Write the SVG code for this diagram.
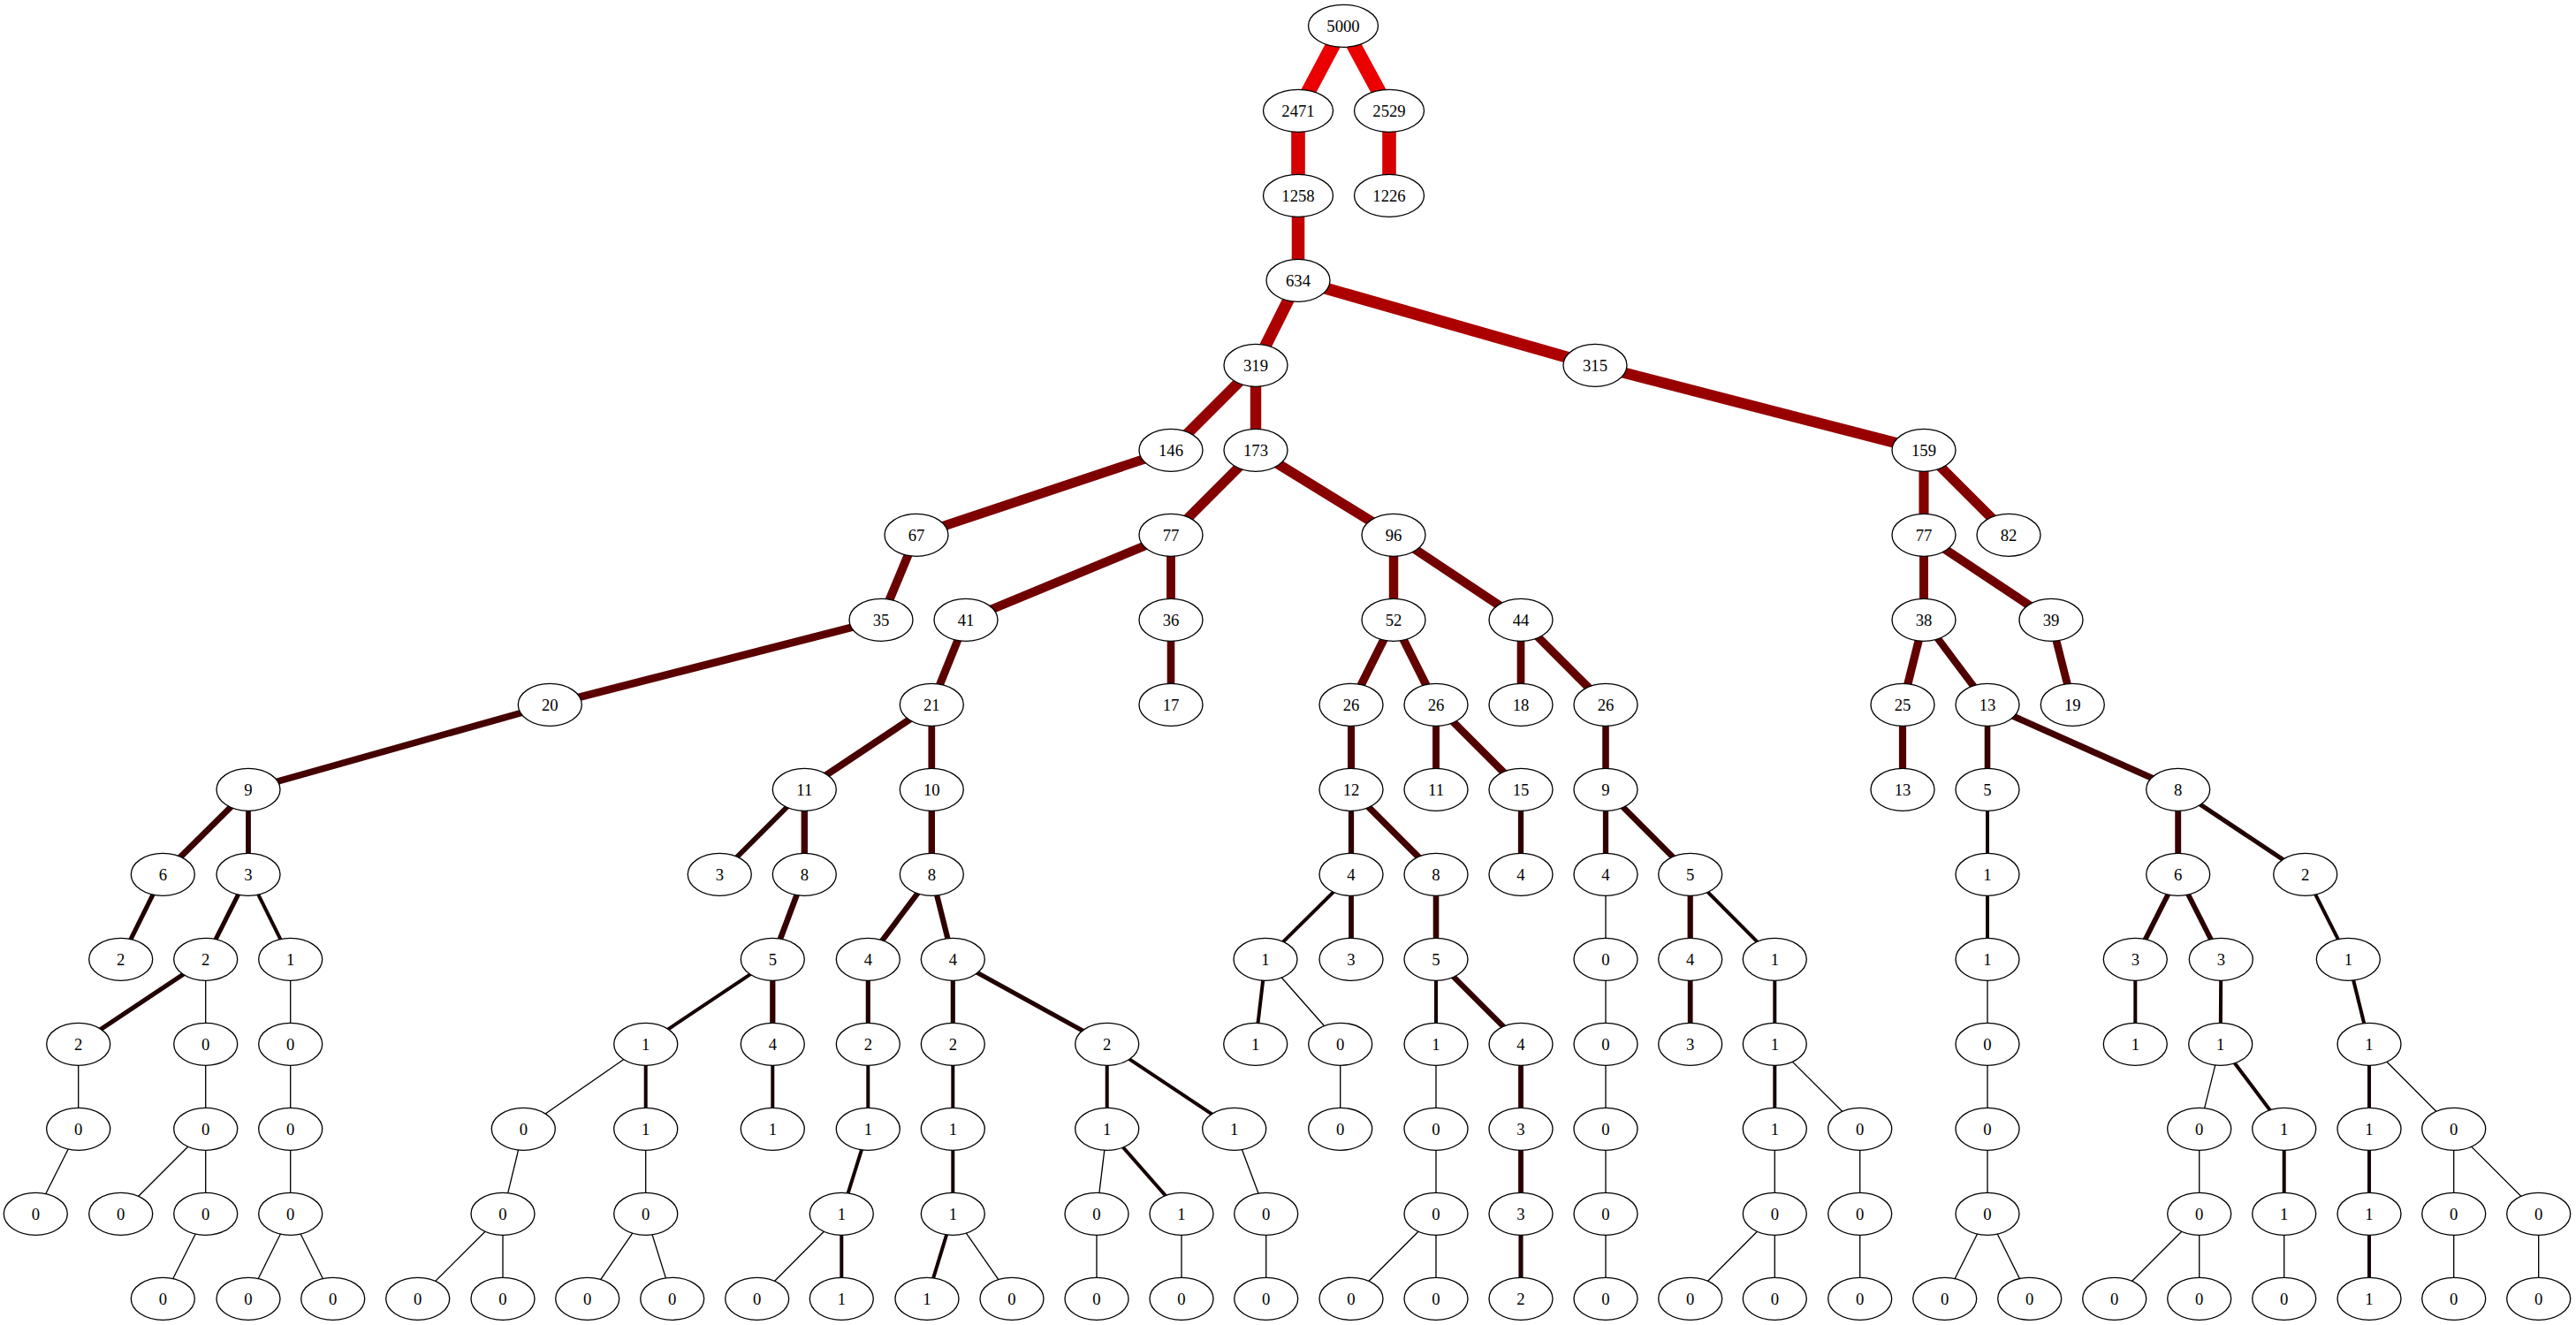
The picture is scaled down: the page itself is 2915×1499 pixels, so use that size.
<svg xmlns="http://www.w3.org/2000/svg" width="2915" height="1499" viewBox="0 0 2915 1499">
<style>
.node ellipse{fill:#fff;stroke:#000;stroke-width:1.33}
.node text{font-family:"Liberation Serif","Times New Roman",serif;font-size:18.67px;text-anchor:middle;fill:#000}
#edges line{fill:none;stroke-linecap:butt}
.w0{stroke:#000;stroke-width:1.33}
.w1{stroke:#150000;stroke-width:4}
.w2{stroke:#210000;stroke-width:5.13}
.w3{stroke:#2a0000;stroke-width:5.79}
.w4{stroke:#300000;stroke-width:6.26}
.w5{stroke:#360000;stroke-width:6.62}
.w6{stroke:#3a0000;stroke-width:6.92}
.w8{stroke:#420000;stroke-width:7.39}
.w9{stroke:#450000;stroke-width:7.58}
.w10{stroke:#480000;stroke-width:7.75}
.w11{stroke:#4a0000;stroke-width:7.91}
.w12{stroke:#4d0000;stroke-width:8.05}
.w13{stroke:#4f0000;stroke-width:8.18}
.w15{stroke:#530000;stroke-width:8.41}
.w17{stroke:#570000;stroke-width:8.62}
.w18{stroke:#580000;stroke-width:8.71}
.w19{stroke:#5a0000;stroke-width:8.8}
.w20{stroke:#5b0000;stroke-width:8.88}
.w21{stroke:#5d0000;stroke-width:8.96}
.w25{stroke:#620000;stroke-width:9.25}
.w26{stroke:#630000;stroke-width:9.31}
.w35{stroke:#6b0000;stroke-width:9.8}
.w36{stroke:#6c0000;stroke-width:9.84}
.w38{stroke:#6e0000;stroke-width:9.93}
.w39{stroke:#6e0000;stroke-width:9.97}
.w41{stroke:#700000;stroke-width:10.05}
.w44{stroke:#720000;stroke-width:10.17}
.w52{stroke:#770000;stroke-width:10.44}
.w67{stroke:#7e0000;stroke-width:10.85}
.w77{stroke:#820000;stroke-width:11.08}
.w82{stroke:#840000;stroke-width:11.18}
.w96{stroke:#890000;stroke-width:11.44}
.w146{stroke:#950000;stroke-width:12.12}
.w159{stroke:#980000;stroke-width:12.26}
.w173{stroke:#9a0000;stroke-width:12.4}
.w315{stroke:#ac0000;stroke-width:13.38}
.w319{stroke:#ad0000;stroke-width:13.4}
.w634{stroke:#c10000;stroke-width:14.52}
.w1226{stroke:#d50000;stroke-width:15.59}
.w1258{stroke:#d60000;stroke-width:15.63}
.w2471{stroke:#ea0000;stroke-width:16.73}
.w2529{stroke:#ea0000;stroke-width:16.77}
</style>
<rect width="2915" height="1499" fill="#fff"/>
<g id="edges">
<line class="w2471" x1="1520" y1="29.3" x2="1469" y2="125.3"/>
<line class="w2529" x1="1520" y1="29.3" x2="1572" y2="125.3"/>
<line class="w1258" x1="1469" y1="125.3" x2="1469" y2="221.3"/>
<line class="w1226" x1="1572" y1="125.3" x2="1572" y2="221.3"/>
<line class="w634" x1="1469" y1="221.3" x2="1469" y2="317.3"/>
<line class="w319" x1="1469" y1="317.3" x2="1421" y2="413.3"/>
<line class="w315" x1="1469" y1="317.3" x2="1805" y2="413.3"/>
<line class="w146" x1="1421" y1="413.3" x2="1325" y2="509.3"/>
<line class="w173" x1="1421" y1="413.3" x2="1421" y2="509.3"/>
<line class="w159" x1="1805" y1="413.3" x2="2177" y2="509.3"/>
<line class="w67" x1="1325" y1="509.3" x2="1037" y2="605.3"/>
<line class="w77" x1="1421" y1="509.3" x2="1325" y2="605.3"/>
<line class="w96" x1="1421" y1="509.3" x2="1577" y2="605.3"/>
<line class="w77" x1="2177" y1="509.3" x2="2177" y2="605.3"/>
<line class="w82" x1="2177" y1="509.3" x2="2273" y2="605.3"/>
<line class="w35" x1="1037" y1="605.3" x2="997" y2="701.3"/>
<line class="w41" x1="1325" y1="605.3" x2="1093" y2="701.3"/>
<line class="w36" x1="1325" y1="605.3" x2="1325" y2="701.3"/>
<line class="w52" x1="1577" y1="605.3" x2="1577" y2="701.3"/>
<line class="w44" x1="1577" y1="605.3" x2="1721" y2="701.3"/>
<line class="w38" x1="2177" y1="605.3" x2="2177" y2="701.3"/>
<line class="w39" x1="2177" y1="605.3" x2="2321" y2="701.3"/>
<line class="w20" x1="997" y1="701.3" x2="622.3" y2="797.3"/>
<line class="w21" x1="1093" y1="701.3" x2="1054.3" y2="797.3"/>
<line class="w17" x1="1325" y1="701.3" x2="1325" y2="797.3"/>
<line class="w26" x1="1577" y1="701.3" x2="1529" y2="797.3"/>
<line class="w26" x1="1577" y1="701.3" x2="1625" y2="797.3"/>
<line class="w18" x1="1721" y1="701.3" x2="1721" y2="797.3"/>
<line class="w26" x1="1721" y1="701.3" x2="1817" y2="797.3"/>
<line class="w25" x1="2177" y1="701.3" x2="2153" y2="797.3"/>
<line class="w13" x1="2177" y1="701.3" x2="2249" y2="797.3"/>
<line class="w19" x1="2321" y1="701.3" x2="2345.3" y2="797.3"/>
<line class="w9" x1="622.3" y1="797.3" x2="281" y2="893.3"/>
<line class="w11" x1="1054.3" y1="797.3" x2="910.3" y2="893.3"/>
<line class="w10" x1="1054.3" y1="797.3" x2="1054.3" y2="893.3"/>
<line class="w12" x1="1529" y1="797.3" x2="1529" y2="893.3"/>
<line class="w11" x1="1625" y1="797.3" x2="1625" y2="893.3"/>
<line class="w15" x1="1625" y1="797.3" x2="1721" y2="893.3"/>
<line class="w9" x1="1817" y1="797.3" x2="1817" y2="893.3"/>
<line class="w13" x1="2153" y1="797.3" x2="2153" y2="893.3"/>
<line class="w5" x1="2249" y1="797.3" x2="2249" y2="893.3"/>
<line class="w8" x1="2249" y1="797.3" x2="2464.7" y2="893.3"/>
<line class="w6" x1="281" y1="893.3" x2="184.3" y2="989.3"/>
<line class="w3" x1="281" y1="893.3" x2="281" y2="989.3"/>
<line class="w3" x1="910.3" y1="893.3" x2="814.3" y2="989.3"/>
<line class="w8" x1="910.3" y1="893.3" x2="910.3" y2="989.3"/>
<line class="w8" x1="1054.3" y1="893.3" x2="1054.3" y2="989.3"/>
<line class="w4" x1="1529" y1="893.3" x2="1529" y2="989.3"/>
<line class="w8" x1="1529" y1="893.3" x2="1625" y2="989.3"/>
<line class="w4" x1="1721" y1="893.3" x2="1721" y2="989.3"/>
<line class="w4" x1="1817" y1="893.3" x2="1817" y2="989.3"/>
<line class="w5" x1="1817" y1="893.3" x2="1912.7" y2="989.3"/>
<line class="w1" x1="2249" y1="893.3" x2="2249" y2="989.3"/>
<line class="w6" x1="2464.7" y1="893.3" x2="2464.7" y2="989.3"/>
<line class="w2" x1="2464.7" y1="893.3" x2="2608.7" y2="989.3"/>
<line class="w2" x1="184.3" y1="989.3" x2="136.7" y2="1085.3"/>
<line class="w2" x1="281" y1="989.3" x2="232.7" y2="1085.3"/>
<line class="w1" x1="281" y1="989.3" x2="328.7" y2="1085.3"/>
<line class="w5" x1="910.3" y1="989.3" x2="874.3" y2="1085.3"/>
<line class="w4" x1="1054.3" y1="989.3" x2="982.3" y2="1085.3"/>
<line class="w4" x1="1054.3" y1="989.3" x2="1078.3" y2="1085.3"/>
<line class="w1" x1="1529" y1="989.3" x2="1432" y2="1085.3"/>
<line class="w3" x1="1529" y1="989.3" x2="1529" y2="1085.3"/>
<line class="w5" x1="1625" y1="989.3" x2="1625" y2="1085.3"/>
<line class="w0" x1="1817" y1="989.3" x2="1817" y2="1085.3"/>
<line class="w4" x1="1912.7" y1="989.3" x2="1912.7" y2="1085.3"/>
<line class="w1" x1="1912.7" y1="989.3" x2="2008.3" y2="1085.3"/>
<line class="w1" x1="2249" y1="989.3" x2="2249" y2="1085.3"/>
<line class="w3" x1="2464.7" y1="989.3" x2="2416.3" y2="1085.3"/>
<line class="w3" x1="2464.7" y1="989.3" x2="2513.3" y2="1085.3"/>
<line class="w1" x1="2608.7" y1="989.3" x2="2657.3" y2="1085.3"/>
<line class="w2" x1="232.7" y1="1085.3" x2="88.7" y2="1181.3"/>
<line class="w0" x1="232.7" y1="1085.3" x2="232.7" y2="1181.3"/>
<line class="w0" x1="328.7" y1="1085.3" x2="328.7" y2="1181.3"/>
<line class="w1" x1="874.3" y1="1085.3" x2="730.7" y2="1181.3"/>
<line class="w4" x1="874.3" y1="1085.3" x2="874.3" y2="1181.3"/>
<line class="w2" x1="982.3" y1="1085.3" x2="982.3" y2="1181.3"/>
<line class="w2" x1="1078.3" y1="1085.3" x2="1078.3" y2="1181.3"/>
<line class="w2" x1="1078.3" y1="1085.3" x2="1252.7" y2="1181.3"/>
<line class="w1" x1="1432" y1="1085.3" x2="1420.7" y2="1181.3"/>
<line class="w0" x1="1432" y1="1085.3" x2="1516.7" y2="1181.3"/>
<line class="w1" x1="1625" y1="1085.3" x2="1625" y2="1181.3"/>
<line class="w4" x1="1625" y1="1085.3" x2="1721" y2="1181.3"/>
<line class="w0" x1="1817" y1="1085.3" x2="1817" y2="1181.3"/>
<line class="w3" x1="1912.7" y1="1085.3" x2="1912.7" y2="1181.3"/>
<line class="w1" x1="2008.3" y1="1085.3" x2="2008.3" y2="1181.3"/>
<line class="w0" x1="2249" y1="1085.3" x2="2249" y2="1181.3"/>
<line class="w1" x1="2416.3" y1="1085.3" x2="2416.3" y2="1181.3"/>
<line class="w1" x1="2513.3" y1="1085.3" x2="2512.7" y2="1181.3"/>
<line class="w1" x1="2657.3" y1="1085.3" x2="2681" y2="1181.3"/>
<line class="w0" x1="88.7" y1="1181.3" x2="88.7" y2="1277.3"/>
<line class="w0" x1="232.7" y1="1181.3" x2="232.7" y2="1277.3"/>
<line class="w0" x1="328.7" y1="1181.3" x2="328.7" y2="1277.3"/>
<line class="w0" x1="730.7" y1="1181.3" x2="592.3" y2="1277.3"/>
<line class="w1" x1="730.7" y1="1181.3" x2="730.7" y2="1277.3"/>
<line class="w1" x1="874.3" y1="1181.3" x2="874.3" y2="1277.3"/>
<line class="w1" x1="982.3" y1="1181.3" x2="982.3" y2="1277.3"/>
<line class="w1" x1="1078.3" y1="1181.3" x2="1078.3" y2="1277.3"/>
<line class="w1" x1="1252.7" y1="1181.3" x2="1252.7" y2="1277.3"/>
<line class="w1" x1="1252.7" y1="1181.3" x2="1396.7" y2="1277.3"/>
<line class="w0" x1="1516.7" y1="1181.3" x2="1516.7" y2="1277.3"/>
<line class="w0" x1="1625" y1="1181.3" x2="1625" y2="1277.3"/>
<line class="w3" x1="1721" y1="1181.3" x2="1721" y2="1277.3"/>
<line class="w0" x1="1817" y1="1181.3" x2="1817" y2="1277.3"/>
<line class="w1" x1="2008.3" y1="1181.3" x2="2008.3" y2="1277.3"/>
<line class="w0" x1="2008.3" y1="1181.3" x2="2104.7" y2="1277.3"/>
<line class="w0" x1="2249" y1="1181.3" x2="2249" y2="1277.3"/>
<line class="w0" x1="2512.7" y1="1181.3" x2="2488.7" y2="1277.3"/>
<line class="w1" x1="2512.7" y1="1181.3" x2="2584.7" y2="1277.3"/>
<line class="w1" x1="2681" y1="1181.3" x2="2681" y2="1277.3"/>
<line class="w0" x1="2681" y1="1181.3" x2="2776.7" y2="1277.3"/>
<line class="w0" x1="88.7" y1="1277.3" x2="40.3" y2="1373.3"/>
<line class="w0" x1="232.7" y1="1277.3" x2="136.7" y2="1373.3"/>
<line class="w0" x1="232.7" y1="1277.3" x2="232.7" y2="1373.3"/>
<line class="w0" x1="328.7" y1="1277.3" x2="328.7" y2="1373.3"/>
<line class="w0" x1="592.3" y1="1277.3" x2="569" y2="1373.3"/>
<line class="w0" x1="730.7" y1="1277.3" x2="730.7" y2="1373.3"/>
<line class="w1" x1="982.3" y1="1277.3" x2="952.3" y2="1373.3"/>
<line class="w1" x1="1078.3" y1="1277.3" x2="1078.3" y2="1373.3"/>
<line class="w0" x1="1252.7" y1="1277.3" x2="1241" y2="1373.3"/>
<line class="w1" x1="1252.7" y1="1277.3" x2="1337" y2="1373.3"/>
<line class="w0" x1="1396.7" y1="1277.3" x2="1432.7" y2="1373.3"/>
<line class="w0" x1="1625" y1="1277.3" x2="1625" y2="1373.3"/>
<line class="w3" x1="1721" y1="1277.3" x2="1721" y2="1373.3"/>
<line class="w0" x1="1817" y1="1277.3" x2="1817" y2="1373.3"/>
<line class="w0" x1="2008.3" y1="1277.3" x2="2008.3" y2="1373.3"/>
<line class="w0" x1="2104.7" y1="1277.3" x2="2104.7" y2="1373.3"/>
<line class="w0" x1="2249" y1="1277.3" x2="2249" y2="1373.3"/>
<line class="w0" x1="2488.7" y1="1277.3" x2="2488.7" y2="1373.3"/>
<line class="w1" x1="2584.7" y1="1277.3" x2="2584.7" y2="1373.3"/>
<line class="w1" x1="2681" y1="1277.3" x2="2681" y2="1373.3"/>
<line class="w0" x1="2776.7" y1="1277.3" x2="2776.7" y2="1373.3"/>
<line class="w0" x1="2776.7" y1="1277.3" x2="2872.7" y2="1373.3"/>
<line class="w0" x1="232.7" y1="1373.3" x2="184.3" y2="1469.3"/>
<line class="w0" x1="328.7" y1="1373.3" x2="281" y2="1469.3"/>
<line class="w0" x1="328.7" y1="1373.3" x2="376.7" y2="1469.3"/>
<line class="w0" x1="569" y1="1373.3" x2="472.7" y2="1469.3"/>
<line class="w0" x1="569" y1="1373.3" x2="569" y2="1469.3"/>
<line class="w0" x1="730.7" y1="1373.3" x2="664.7" y2="1469.3"/>
<line class="w0" x1="730.7" y1="1373.3" x2="760.7" y2="1469.3"/>
<line class="w0" x1="952.3" y1="1373.3" x2="856.7" y2="1469.3"/>
<line class="w1" x1="952.3" y1="1373.3" x2="952.3" y2="1469.3"/>
<line class="w1" x1="1078.3" y1="1373.3" x2="1049" y2="1469.3"/>
<line class="w0" x1="1078.3" y1="1373.3" x2="1145" y2="1469.3"/>
<line class="w0" x1="1241" y1="1373.3" x2="1241" y2="1469.3"/>
<line class="w0" x1="1337" y1="1373.3" x2="1337" y2="1469.3"/>
<line class="w0" x1="1432.7" y1="1373.3" x2="1432.7" y2="1469.3"/>
<line class="w0" x1="1625" y1="1373.3" x2="1529" y2="1469.3"/>
<line class="w0" x1="1625" y1="1373.3" x2="1625" y2="1469.3"/>
<line class="w2" x1="1721" y1="1373.3" x2="1721" y2="1469.3"/>
<line class="w0" x1="1817" y1="1373.3" x2="1817" y2="1469.3"/>
<line class="w0" x1="2008.3" y1="1373.3" x2="1912.7" y2="1469.3"/>
<line class="w0" x1="2008.3" y1="1373.3" x2="2008.3" y2="1469.3"/>
<line class="w0" x1="2104.7" y1="1373.3" x2="2104.7" y2="1469.3"/>
<line class="w0" x1="2249" y1="1373.3" x2="2200.7" y2="1469.3"/>
<line class="w0" x1="2249" y1="1373.3" x2="2296.7" y2="1469.3"/>
<line class="w0" x1="2488.7" y1="1373.3" x2="2392.7" y2="1469.3"/>
<line class="w0" x1="2488.7" y1="1373.3" x2="2488.7" y2="1469.3"/>
<line class="w0" x1="2584.7" y1="1373.3" x2="2584.7" y2="1469.3"/>
<line class="w1" x1="2681" y1="1373.3" x2="2681" y2="1469.3"/>
<line class="w0" x1="2776.7" y1="1373.3" x2="2776.7" y2="1469.3"/>
<line class="w0" x1="2872.7" y1="1373.3" x2="2872.7" y2="1469.3"/>
</g>
<g id="nodes">
<g id="n5000" class="node" transform="translate(1520,29.3)"><ellipse rx="39.5" ry="24"/><text y="6.3">5000</text></g>
<g id="n2471" class="node" transform="translate(1469,125.3)"><ellipse rx="39.5" ry="24"/><text y="6.3">2471</text></g>
<g id="n2529" class="node" transform="translate(1572,125.3)"><ellipse rx="39.5" ry="24"/><text y="6.3">2529</text></g>
<g id="n1258" class="node" transform="translate(1469,221.3)"><ellipse rx="39.5" ry="24"/><text y="6.3">1258</text></g>
<g id="n1226" class="node" transform="translate(1572,221.3)"><ellipse rx="39.5" ry="24"/><text y="6.3">1226</text></g>
<g id="n634" class="node" transform="translate(1469,317.3)"><ellipse rx="36" ry="24"/><text y="6.3">634</text></g>
<g id="n319" class="node" transform="translate(1421,413.3)"><ellipse rx="36" ry="24"/><text y="6.3">319</text></g>
<g id="n315" class="node" transform="translate(1805,413.3)"><ellipse rx="36" ry="24"/><text y="6.3">315</text></g>
<g id="n146" class="node" transform="translate(1325,509.3)"><ellipse rx="36" ry="24"/><text y="6.3">146</text></g>
<g id="n173" class="node" transform="translate(1421,509.3)"><ellipse rx="36" ry="24"/><text y="6.3">173</text></g>
<g id="n159" class="node" transform="translate(2177,509.3)"><ellipse rx="36" ry="24"/><text y="6.3">159</text></g>
<g id="n67" class="node" transform="translate(1037,605.3)"><ellipse rx="36" ry="24"/><text y="6.3">67</text></g>
<g id="n77a" class="node" transform="translate(1325,605.3)"><ellipse rx="36" ry="24"/><text y="6.3">77</text></g>
<g id="n96" class="node" transform="translate(1577,605.3)"><ellipse rx="36" ry="24"/><text y="6.3">96</text></g>
<g id="n77b" class="node" transform="translate(2177,605.3)"><ellipse rx="36" ry="24"/><text y="6.3">77</text></g>
<g id="n82" class="node" transform="translate(2273,605.3)"><ellipse rx="36" ry="24"/><text y="6.3">82</text></g>
<g id="n35" class="node" transform="translate(997,701.3)"><ellipse rx="36" ry="24"/><text y="6.3">35</text></g>
<g id="n41" class="node" transform="translate(1093,701.3)"><ellipse rx="36" ry="24"/><text y="6.3">41</text></g>
<g id="n36" class="node" transform="translate(1325,701.3)"><ellipse rx="36" ry="24"/><text y="6.3">36</text></g>
<g id="n52" class="node" transform="translate(1577,701.3)"><ellipse rx="36" ry="24"/><text y="6.3">52</text></g>
<g id="n44" class="node" transform="translate(1721,701.3)"><ellipse rx="36" ry="24"/><text y="6.3">44</text></g>
<g id="n38" class="node" transform="translate(2177,701.3)"><ellipse rx="36" ry="24"/><text y="6.3">38</text></g>
<g id="n39" class="node" transform="translate(2321,701.3)"><ellipse rx="36" ry="24"/><text y="6.3">39</text></g>
<g id="n20" class="node" transform="translate(622.3,797.3)"><ellipse rx="36" ry="24"/><text y="6.3">20</text></g>
<g id="n21" class="node" transform="translate(1054.3,797.3)"><ellipse rx="36" ry="24"/><text y="6.3">21</text></g>
<g id="n17" class="node" transform="translate(1325,797.3)"><ellipse rx="36" ry="24"/><text y="6.3">17</text></g>
<g id="n26a" class="node" transform="translate(1529,797.3)"><ellipse rx="36" ry="24"/><text y="6.3">26</text></g>
<g id="n26b" class="node" transform="translate(1625,797.3)"><ellipse rx="36" ry="24"/><text y="6.3">26</text></g>
<g id="n18" class="node" transform="translate(1721,797.3)"><ellipse rx="36" ry="24"/><text y="6.3">18</text></g>
<g id="n26c" class="node" transform="translate(1817,797.3)"><ellipse rx="36" ry="24"/><text y="6.3">26</text></g>
<g id="n25" class="node" transform="translate(2153,797.3)"><ellipse rx="36" ry="24"/><text y="6.3">25</text></g>
<g id="n13a" class="node" transform="translate(2249,797.3)"><ellipse rx="36" ry="24"/><text y="6.3">13</text></g>
<g id="n19" class="node" transform="translate(2345.3,797.3)"><ellipse rx="36" ry="24"/><text y="6.3">19</text></g>
<g id="n9a" class="node" transform="translate(281,893.3)"><ellipse rx="36" ry="24"/><text y="6.3">9</text></g>
<g id="n11a" class="node" transform="translate(910.3,893.3)"><ellipse rx="36" ry="24"/><text y="6.3">11</text></g>
<g id="n10" class="node" transform="translate(1054.3,893.3)"><ellipse rx="36" ry="24"/><text y="6.3">10</text></g>
<g id="n12" class="node" transform="translate(1529,893.3)"><ellipse rx="36" ry="24"/><text y="6.3">12</text></g>
<g id="n11b" class="node" transform="translate(1625,893.3)"><ellipse rx="36" ry="24"/><text y="6.3">11</text></g>
<g id="n15" class="node" transform="translate(1721,893.3)"><ellipse rx="36" ry="24"/><text y="6.3">15</text></g>
<g id="n9b" class="node" transform="translate(1817,893.3)"><ellipse rx="36" ry="24"/><text y="6.3">9</text></g>
<g id="n13b" class="node" transform="translate(2153,893.3)"><ellipse rx="36" ry="24"/><text y="6.3">13</text></g>
<g id="n5a" class="node" transform="translate(2249,893.3)"><ellipse rx="36" ry="24"/><text y="6.3">5</text></g>
<g id="n8a" class="node" transform="translate(2464.7,893.3)"><ellipse rx="36" ry="24"/><text y="6.3">8</text></g>
<g id="n6a" class="node" transform="translate(184.3,989.3)"><ellipse rx="36" ry="24"/><text y="6.3">6</text></g>
<g id="n3a" class="node" transform="translate(281,989.3)"><ellipse rx="36" ry="24"/><text y="6.3">3</text></g>
<g id="n3b" class="node" transform="translate(814.3,989.3)"><ellipse rx="36" ry="24"/><text y="6.3">3</text></g>
<g id="n8b" class="node" transform="translate(910.3,989.3)"><ellipse rx="36" ry="24"/><text y="6.3">8</text></g>
<g id="n8c" class="node" transform="translate(1054.3,989.3)"><ellipse rx="36" ry="24"/><text y="6.3">8</text></g>
<g id="n4a" class="node" transform="translate(1529,989.3)"><ellipse rx="36" ry="24"/><text y="6.3">4</text></g>
<g id="n8d" class="node" transform="translate(1625,989.3)"><ellipse rx="36" ry="24"/><text y="6.3">8</text></g>
<g id="n4b" class="node" transform="translate(1721,989.3)"><ellipse rx="36" ry="24"/><text y="6.3">4</text></g>
<g id="n4c" class="node" transform="translate(1817,989.3)"><ellipse rx="36" ry="24"/><text y="6.3">4</text></g>
<g id="n5b" class="node" transform="translate(1912.7,989.3)"><ellipse rx="36" ry="24"/><text y="6.3">5</text></g>
<g id="n1a" class="node" transform="translate(2249,989.3)"><ellipse rx="36" ry="24"/><text y="6.3">1</text></g>
<g id="n6b" class="node" transform="translate(2464.7,989.3)"><ellipse rx="36" ry="24"/><text y="6.3">6</text></g>
<g id="n2a" class="node" transform="translate(2608.7,989.3)"><ellipse rx="36" ry="24"/><text y="6.3">2</text></g>
<g id="n2b" class="node" transform="translate(136.7,1085.3)"><ellipse rx="36" ry="24"/><text y="6.3">2</text></g>
<g id="n2c" class="node" transform="translate(232.7,1085.3)"><ellipse rx="36" ry="24"/><text y="6.3">2</text></g>
<g id="n1b" class="node" transform="translate(328.7,1085.3)"><ellipse rx="36" ry="24"/><text y="6.3">1</text></g>
<g id="n5c" class="node" transform="translate(874.3,1085.3)"><ellipse rx="36" ry="24"/><text y="6.3">5</text></g>
<g id="n4d" class="node" transform="translate(982.3,1085.3)"><ellipse rx="36" ry="24"/><text y="6.3">4</text></g>
<g id="n4e" class="node" transform="translate(1078.3,1085.3)"><ellipse rx="36" ry="24"/><text y="6.3">4</text></g>
<g id="n1c" class="node" transform="translate(1432,1085.3)"><ellipse rx="36" ry="24"/><text y="6.3">1</text></g>
<g id="n3c" class="node" transform="translate(1529,1085.3)"><ellipse rx="36" ry="24"/><text y="6.3">3</text></g>
<g id="n5d" class="node" transform="translate(1625,1085.3)"><ellipse rx="36" ry="24"/><text y="6.3">5</text></g>
<g id="n0a" class="node" transform="translate(1817,1085.3)"><ellipse rx="36" ry="24"/><text y="6.3">0</text></g>
<g id="n4f" class="node" transform="translate(1912.7,1085.3)"><ellipse rx="36" ry="24"/><text y="6.3">4</text></g>
<g id="n1d" class="node" transform="translate(2008.3,1085.3)"><ellipse rx="36" ry="24"/><text y="6.3">1</text></g>
<g id="n1e" class="node" transform="translate(2249,1085.3)"><ellipse rx="36" ry="24"/><text y="6.3">1</text></g>
<g id="n3d" class="node" transform="translate(2416.3,1085.3)"><ellipse rx="36" ry="24"/><text y="6.3">3</text></g>
<g id="n3e" class="node" transform="translate(2513.3,1085.3)"><ellipse rx="36" ry="24"/><text y="6.3">3</text></g>
<g id="n1f" class="node" transform="translate(2657.3,1085.3)"><ellipse rx="36" ry="24"/><text y="6.3">1</text></g>
<g id="n2d" class="node" transform="translate(88.7,1181.3)"><ellipse rx="36" ry="24"/><text y="6.3">2</text></g>
<g id="n0b" class="node" transform="translate(232.7,1181.3)"><ellipse rx="36" ry="24"/><text y="6.3">0</text></g>
<g id="n0c" class="node" transform="translate(328.7,1181.3)"><ellipse rx="36" ry="24"/><text y="6.3">0</text></g>
<g id="n1g" class="node" transform="translate(730.7,1181.3)"><ellipse rx="36" ry="24"/><text y="6.3">1</text></g>
<g id="n4g" class="node" transform="translate(874.3,1181.3)"><ellipse rx="36" ry="24"/><text y="6.3">4</text></g>
<g id="n2e" class="node" transform="translate(982.3,1181.3)"><ellipse rx="36" ry="24"/><text y="6.3">2</text></g>
<g id="n2f" class="node" transform="translate(1078.3,1181.3)"><ellipse rx="36" ry="24"/><text y="6.3">2</text></g>
<g id="n2g" class="node" transform="translate(1252.7,1181.3)"><ellipse rx="36" ry="24"/><text y="6.3">2</text></g>
<g id="n1h" class="node" transform="translate(1420.7,1181.3)"><ellipse rx="36" ry="24"/><text y="6.3">1</text></g>
<g id="n0d" class="node" transform="translate(1516.7,1181.3)"><ellipse rx="36" ry="24"/><text y="6.3">0</text></g>
<g id="n1i" class="node" transform="translate(1625,1181.3)"><ellipse rx="36" ry="24"/><text y="6.3">1</text></g>
<g id="n4h" class="node" transform="translate(1721,1181.3)"><ellipse rx="36" ry="24"/><text y="6.3">4</text></g>
<g id="n0e" class="node" transform="translate(1817,1181.3)"><ellipse rx="36" ry="24"/><text y="6.3">0</text></g>
<g id="n3f" class="node" transform="translate(1912.7,1181.3)"><ellipse rx="36" ry="24"/><text y="6.3">3</text></g>
<g id="n1j" class="node" transform="translate(2008.3,1181.3)"><ellipse rx="36" ry="24"/><text y="6.3">1</text></g>
<g id="n0f" class="node" transform="translate(2249,1181.3)"><ellipse rx="36" ry="24"/><text y="6.3">0</text></g>
<g id="n1k" class="node" transform="translate(2416.3,1181.3)"><ellipse rx="36" ry="24"/><text y="6.3">1</text></g>
<g id="n1l" class="node" transform="translate(2512.7,1181.3)"><ellipse rx="36" ry="24"/><text y="6.3">1</text></g>
<g id="n1m" class="node" transform="translate(2681,1181.3)"><ellipse rx="36" ry="24"/><text y="6.3">1</text></g>
<g id="n0g" class="node" transform="translate(88.7,1277.3)"><ellipse rx="36" ry="24"/><text y="6.3">0</text></g>
<g id="n0h" class="node" transform="translate(232.7,1277.3)"><ellipse rx="36" ry="24"/><text y="6.3">0</text></g>
<g id="n0i" class="node" transform="translate(328.7,1277.3)"><ellipse rx="36" ry="24"/><text y="6.3">0</text></g>
<g id="n0j" class="node" transform="translate(592.3,1277.3)"><ellipse rx="36" ry="24"/><text y="6.3">0</text></g>
<g id="n1n" class="node" transform="translate(730.7,1277.3)"><ellipse rx="36" ry="24"/><text y="6.3">1</text></g>
<g id="n1o" class="node" transform="translate(874.3,1277.3)"><ellipse rx="36" ry="24"/><text y="6.3">1</text></g>
<g id="n1p" class="node" transform="translate(982.3,1277.3)"><ellipse rx="36" ry="24"/><text y="6.3">1</text></g>
<g id="n1q" class="node" transform="translate(1078.3,1277.3)"><ellipse rx="36" ry="24"/><text y="6.3">1</text></g>
<g id="n1r" class="node" transform="translate(1252.7,1277.3)"><ellipse rx="36" ry="24"/><text y="6.3">1</text></g>
<g id="n1s" class="node" transform="translate(1396.7,1277.3)"><ellipse rx="36" ry="24"/><text y="6.3">1</text></g>
<g id="n0k" class="node" transform="translate(1516.7,1277.3)"><ellipse rx="36" ry="24"/><text y="6.3">0</text></g>
<g id="n0l" class="node" transform="translate(1625,1277.3)"><ellipse rx="36" ry="24"/><text y="6.3">0</text></g>
<g id="n3g" class="node" transform="translate(1721,1277.3)"><ellipse rx="36" ry="24"/><text y="6.3">3</text></g>
<g id="n0m" class="node" transform="translate(1817,1277.3)"><ellipse rx="36" ry="24"/><text y="6.3">0</text></g>
<g id="n1t" class="node" transform="translate(2008.3,1277.3)"><ellipse rx="36" ry="24"/><text y="6.3">1</text></g>
<g id="n0n" class="node" transform="translate(2104.7,1277.3)"><ellipse rx="36" ry="24"/><text y="6.3">0</text></g>
<g id="n0o" class="node" transform="translate(2249,1277.3)"><ellipse rx="36" ry="24"/><text y="6.3">0</text></g>
<g id="n0p" class="node" transform="translate(2488.7,1277.3)"><ellipse rx="36" ry="24"/><text y="6.3">0</text></g>
<g id="n1u" class="node" transform="translate(2584.7,1277.3)"><ellipse rx="36" ry="24"/><text y="6.3">1</text></g>
<g id="n1v" class="node" transform="translate(2681,1277.3)"><ellipse rx="36" ry="24"/><text y="6.3">1</text></g>
<g id="n0q" class="node" transform="translate(2776.7,1277.3)"><ellipse rx="36" ry="24"/><text y="6.3">0</text></g>
<g id="n0r" class="node" transform="translate(40.3,1373.3)"><ellipse rx="36" ry="24"/><text y="6.3">0</text></g>
<g id="n0s" class="node" transform="translate(136.7,1373.3)"><ellipse rx="36" ry="24"/><text y="6.3">0</text></g>
<g id="n0t" class="node" transform="translate(232.7,1373.3)"><ellipse rx="36" ry="24"/><text y="6.3">0</text></g>
<g id="n0u" class="node" transform="translate(328.7,1373.3)"><ellipse rx="36" ry="24"/><text y="6.3">0</text></g>
<g id="n0v" class="node" transform="translate(569,1373.3)"><ellipse rx="36" ry="24"/><text y="6.3">0</text></g>
<g id="n0w" class="node" transform="translate(730.7,1373.3)"><ellipse rx="36" ry="24"/><text y="6.3">0</text></g>
<g id="n1w" class="node" transform="translate(952.3,1373.3)"><ellipse rx="36" ry="24"/><text y="6.3">1</text></g>
<g id="n1x" class="node" transform="translate(1078.3,1373.3)"><ellipse rx="36" ry="24"/><text y="6.3">1</text></g>
<g id="n0x" class="node" transform="translate(1241,1373.3)"><ellipse rx="36" ry="24"/><text y="6.3">0</text></g>
<g id="n1y" class="node" transform="translate(1337,1373.3)"><ellipse rx="36" ry="24"/><text y="6.3">1</text></g>
<g id="n0y" class="node" transform="translate(1432.7,1373.3)"><ellipse rx="36" ry="24"/><text y="6.3">0</text></g>
<g id="n0z" class="node" transform="translate(1625,1373.3)"><ellipse rx="36" ry="24"/><text y="6.3">0</text></g>
<g id="n3h" class="node" transform="translate(1721,1373.3)"><ellipse rx="36" ry="24"/><text y="6.3">3</text></g>
<g id="n0aa" class="node" transform="translate(1817,1373.3)"><ellipse rx="36" ry="24"/><text y="6.3">0</text></g>
<g id="n0ab" class="node" transform="translate(2008.3,1373.3)"><ellipse rx="36" ry="24"/><text y="6.3">0</text></g>
<g id="n0ac" class="node" transform="translate(2104.7,1373.3)"><ellipse rx="36" ry="24"/><text y="6.3">0</text></g>
<g id="n0ad" class="node" transform="translate(2249,1373.3)"><ellipse rx="36" ry="24"/><text y="6.3">0</text></g>
<g id="n0ae" class="node" transform="translate(2488.7,1373.3)"><ellipse rx="36" ry="24"/><text y="6.3">0</text></g>
<g id="n1z" class="node" transform="translate(2584.7,1373.3)"><ellipse rx="36" ry="24"/><text y="6.3">1</text></g>
<g id="n1aa" class="node" transform="translate(2681,1373.3)"><ellipse rx="36" ry="24"/><text y="6.3">1</text></g>
<g id="n0af" class="node" transform="translate(2776.7,1373.3)"><ellipse rx="36" ry="24"/><text y="6.3">0</text></g>
<g id="n0ag" class="node" transform="translate(2872.7,1373.3)"><ellipse rx="36" ry="24"/><text y="6.3">0</text></g>
<g id="n0ah" class="node" transform="translate(184.3,1469.3)"><ellipse rx="36" ry="24"/><text y="6.3">0</text></g>
<g id="n0ai" class="node" transform="translate(281,1469.3)"><ellipse rx="36" ry="24"/><text y="6.3">0</text></g>
<g id="n0aj" class="node" transform="translate(376.7,1469.3)"><ellipse rx="36" ry="24"/><text y="6.3">0</text></g>
<g id="n0ak" class="node" transform="translate(472.7,1469.3)"><ellipse rx="36" ry="24"/><text y="6.3">0</text></g>
<g id="n0al" class="node" transform="translate(569,1469.3)"><ellipse rx="36" ry="24"/><text y="6.3">0</text></g>
<g id="n0am" class="node" transform="translate(664.7,1469.3)"><ellipse rx="36" ry="24"/><text y="6.3">0</text></g>
<g id="n0an" class="node" transform="translate(760.7,1469.3)"><ellipse rx="36" ry="24"/><text y="6.3">0</text></g>
<g id="n0ao" class="node" transform="translate(856.7,1469.3)"><ellipse rx="36" ry="24"/><text y="6.3">0</text></g>
<g id="n1ab" class="node" transform="translate(952.3,1469.3)"><ellipse rx="36" ry="24"/><text y="6.3">1</text></g>
<g id="n1ac" class="node" transform="translate(1049,1469.3)"><ellipse rx="36" ry="24"/><text y="6.3">1</text></g>
<g id="n0ap" class="node" transform="translate(1145,1469.3)"><ellipse rx="36" ry="24"/><text y="6.3">0</text></g>
<g id="n0aq" class="node" transform="translate(1241,1469.3)"><ellipse rx="36" ry="24"/><text y="6.3">0</text></g>
<g id="n0ar" class="node" transform="translate(1337,1469.3)"><ellipse rx="36" ry="24"/><text y="6.3">0</text></g>
<g id="n0as" class="node" transform="translate(1432.7,1469.3)"><ellipse rx="36" ry="24"/><text y="6.3">0</text></g>
<g id="n0at" class="node" transform="translate(1529,1469.3)"><ellipse rx="36" ry="24"/><text y="6.3">0</text></g>
<g id="n0au" class="node" transform="translate(1625,1469.3)"><ellipse rx="36" ry="24"/><text y="6.3">0</text></g>
<g id="n2h" class="node" transform="translate(1721,1469.3)"><ellipse rx="36" ry="24"/><text y="6.3">2</text></g>
<g id="n0av" class="node" transform="translate(1817,1469.3)"><ellipse rx="36" ry="24"/><text y="6.3">0</text></g>
<g id="n0aw" class="node" transform="translate(1912.7,1469.3)"><ellipse rx="36" ry="24"/><text y="6.3">0</text></g>
<g id="n0ax" class="node" transform="translate(2008.3,1469.3)"><ellipse rx="36" ry="24"/><text y="6.3">0</text></g>
<g id="n0ay" class="node" transform="translate(2104.7,1469.3)"><ellipse rx="36" ry="24"/><text y="6.3">0</text></g>
<g id="n0az" class="node" transform="translate(2200.7,1469.3)"><ellipse rx="36" ry="24"/><text y="6.3">0</text></g>
<g id="n0ba" class="node" transform="translate(2296.7,1469.3)"><ellipse rx="36" ry="24"/><text y="6.3">0</text></g>
<g id="n0bb" class="node" transform="translate(2392.7,1469.3)"><ellipse rx="36" ry="24"/><text y="6.3">0</text></g>
<g id="n0bc" class="node" transform="translate(2488.7,1469.3)"><ellipse rx="36" ry="24"/><text y="6.3">0</text></g>
<g id="n0bd" class="node" transform="translate(2584.7,1469.3)"><ellipse rx="36" ry="24"/><text y="6.3">0</text></g>
<g id="n1ad" class="node" transform="translate(2681,1469.3)"><ellipse rx="36" ry="24"/><text y="6.3">1</text></g>
<g id="n0be" class="node" transform="translate(2776.7,1469.3)"><ellipse rx="36" ry="24"/><text y="6.3">0</text></g>
<g id="n0bf" class="node" transform="translate(2872.7,1469.3)"><ellipse rx="36" ry="24"/><text y="6.3">0</text></g>
</g>
</svg>
